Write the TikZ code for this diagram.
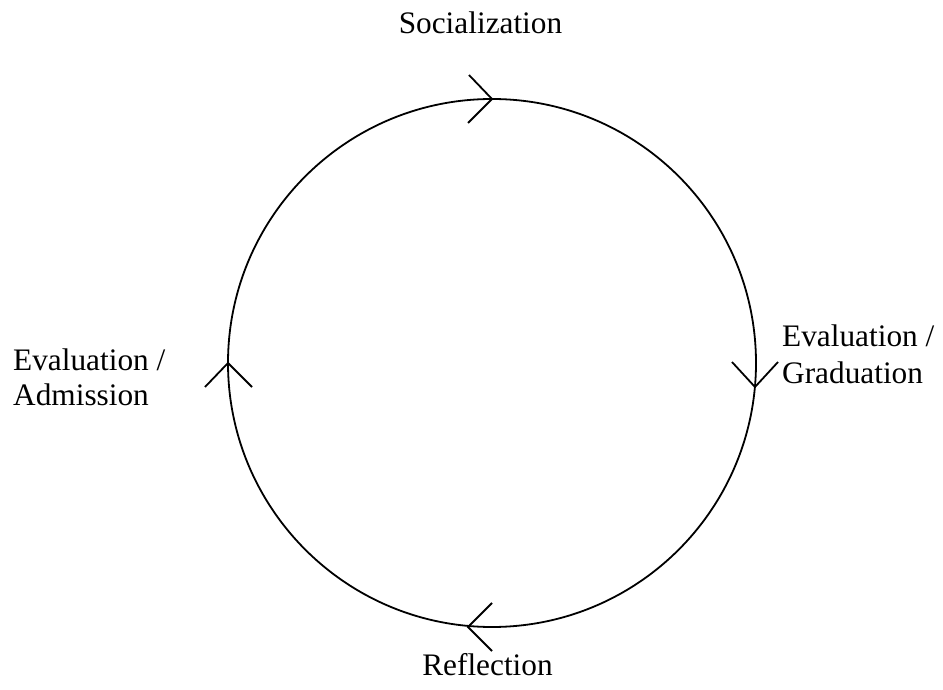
\documentclass[tikz,border=0pt]{standalone}
\usepackage{fontspec}
\setmainfont{Liberation Serif}
\begin{document}
\begin{tikzpicture}[x=1pt,y=-1pt,
  lbl/.style={inner sep=0pt, font=\fontsize{31.3}{37}\selectfont},
  ring/.style={draw=black, line width=1.8pt},
  chev/.style={draw=black, line width=1.8pt, line join=miter}]
\useasboundingbox (0,0) rectangle (943,690);
\coordinate (c) at (492,363);
\draw[ring] (c) circle[radius=264];
% chevrons
\draw[chev] (469,75) -- (492,99) -- (468,123);
\draw[chev] (732,362) -- (755,387) -- (778,362);
\draw[chev] (492,603) -- (468,627) -- (492,651);
\draw[chev] (205,387) -- (228,363) -- (252,387);
% labels
\node[lbl, anchor=base] (soc) at (480.5,34) {Socialization};
\node[lbl, anchor=base] (ref) at (487.5,675) {Reflection};
\node[lbl, anchor=base west] (grad1) at (782,346) {Evaluation /};
\node[lbl, anchor=base west] (grad2) at (782,383) {Graduation};
\node[lbl, anchor=base west] (adm1) at (13,370) {Evaluation /};
\node[lbl, anchor=base west] (adm2) at (13,405) {Admission};
\end{tikzpicture}
\end{document}
